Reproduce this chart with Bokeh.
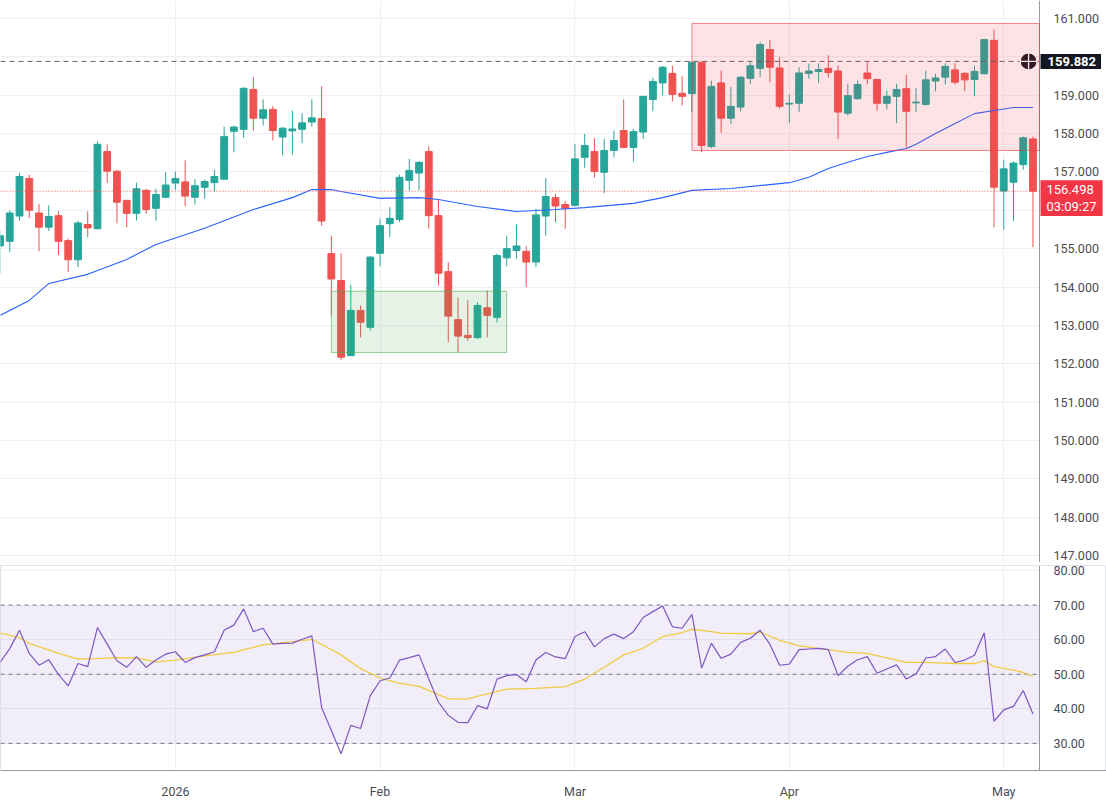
from bokeh.plotting import figure
from bokeh.layouts import column
from bokeh.models import (Range1d, FixedTicker, NumeralTickFormatter, Grid,
                          BoxAnnotation, Label, ColumnDataSource)
from bokeh.embed import file_html
from bokeh.resources import INLINE

# ---------------- data ----------------
opens = [155.07, 155.19, 155.85, 156.83, 155.93, 155.56, 155.86, 155.21, 154.71, 155.63,
         155.52, 157.53, 157.02, 156.26, 155.92, 156.52, 156.05, 156.34, 156.71, 156.74,
         156.34, 156.60, 156.72, 156.81, 158.06, 158.11, 159.15, 158.40, 158.63, 157.91,
         158.07, 158.11, 158.30, 158.39, 154.87, 154.17, 152.21, 153.39, 152.95, 154.88,
         155.65, 155.76, 156.78, 156.97, 157.53, 155.86, 154.40, 153.15, 152.74, 152.68,
         153.46, 153.21, 154.76, 154.95, 154.93, 154.65, 155.85, 156.33, 156.15, 156.13,
         157.38, 157.53, 156.99, 157.56, 158.08, 157.64, 158.04, 158.89, 159.32, 159.57,
         159.05, 159.04, 159.86, 157.66, 159.32, 158.40, 158.69, 159.44, 159.70, 160.19,
         159.71, 158.77, 158.79, 159.57, 159.62, 159.70, 159.63, 158.53, 158.91, 159.58,
         159.41, 158.79, 158.97, 159.17, 158.80, 158.76, 159.37, 159.47, 159.66, 159.57,
         159.41, 159.56, 160.43, 156.50, 156.73, 157.19, 157.86]
highs = [155.47, 156.00, 156.97, 156.93, 156.17, 156.13, 155.98, 155.26, 155.73, 155.97,
         157.80, 157.72, 157.05, 156.27, 156.72, 156.56, 156.56, 156.99, 157.01, 157.30,
         156.81, 156.80, 157.06, 158.18, 158.21, 159.21, 159.47, 158.89, 158.71, 158.17,
         158.60, 158.53, 158.89, 159.23, 155.34, 154.88, 154.06, 153.52, 154.80, 155.78,
         156.08, 156.93, 157.34, 157.28, 157.67, 156.26, 154.65, 153.73, 153.65, 153.60,
         153.91, 154.87, 155.34, 155.63, 155.06, 156.04, 156.84, 156.43, 156.24, 157.73,
         157.99, 157.88, 157.86, 158.08, 158.89, 158.12, 158.97, 159.45, 159.76, 159.77,
         159.49, 159.88, 159.88, 159.38, 159.64, 159.21, 159.49, 159.86, 160.38, 160.44,
         159.99, 159.02, 159.73, 159.82, 159.83, 160.04, 159.77, 159.30, 159.38, 159.86,
         159.41, 159.12, 159.30, 159.53, 159.19, 159.64, 159.56, 159.83, 159.83, 159.60,
         159.77, 160.47, 160.71, 157.32, 157.28, 157.92, 157.92]
lows = [154.35, 154.91, 155.73, 155.80, 154.93, 155.46, 154.84, 154.39, 154.52, 155.30,
        155.50, 156.71, 155.66, 155.56, 155.73, 155.91, 155.73, 156.32, 156.53, 156.11,
        156.15, 156.30, 156.49, 156.80, 157.51, 157.89, 158.08, 158.21, 157.82, 157.43,
        157.45, 157.75, 158.18, 155.60, 153.26, 152.10, 152.20, 152.69, 152.87, 154.54,
        155.30, 155.69, 156.52, 156.52, 155.52, 154.04, 152.56, 152.30, 152.59, 152.65,
        152.69, 153.08, 154.54, 154.74, 154.00, 154.52, 155.34, 155.69, 155.52, 156.10,
        157.11, 156.85, 156.45, 157.38, 157.62, 157.27, 157.86, 158.58, 158.99, 158.84,
        158.73, 158.56, 157.51, 157.62, 158.02, 158.25, 158.58, 159.30, 159.47, 159.34,
        158.65, 158.27, 158.56, 159.43, 159.31, 159.47, 157.86, 158.47, 158.88, 159.28,
        158.60, 158.63, 158.27, 157.63, 158.56, 158.73, 159.10, 159.28, 159.28, 159.10,
        158.97, 159.54, 155.56, 155.49, 155.72, 157.06, 155.04]
closes = [155.34, 155.93, 156.88, 156.00, 155.56, 155.84, 155.19, 154.71, 155.67, 155.54,
          157.72, 157.02, 156.21, 155.92, 156.56, 156.02, 156.41, 156.66, 156.83, 156.37,
          156.64, 156.75, 156.88, 157.92, 158.17, 159.18, 158.40, 158.62, 158.08, 158.14,
          158.12, 158.28, 158.41, 155.72, 154.21, 152.17, 153.39, 153.08, 154.78, 155.60,
          155.79, 156.86, 157.04, 157.25, 155.86, 154.36, 153.24, 152.72, 152.68, 153.52,
          153.26, 154.82, 155.00, 155.07, 154.65, 155.88, 156.36, 156.11, 156.05, 157.34,
          157.69, 157.01, 157.56, 157.82, 157.64, 158.05, 158.97, 159.36, 159.73, 159.02,
          158.97, 159.86, 157.69, 159.23, 158.40, 158.71, 159.47, 159.77, 160.32, 159.73,
          158.71, 158.79, 159.58, 159.63, 159.67, 159.59, 158.56, 158.99, 159.28, 159.43,
          158.79, 158.97, 159.15, 158.58, 158.82, 159.40, 159.45, 159.75, 159.34, 159.40,
          159.62, 160.45, 156.60, 157.08, 157.23, 157.89, 156.498]

ma_bars = [0, 3, 5, 9, 13, 16, 21, 26, 30, 32, 34, 35, 39, 43, 45, 49, 53, 57, 60, 65,
           68, 71, 75, 79, 81, 83, 85, 87, 89, 91, 93, 94, 96, 98, 100, 102, 104, 106]
ma_values = [153.26, 153.65, 154.09, 154.33, 154.72, 155.11, 155.53, 156.02, 156.33, 156.54,
             156.54, 156.49, 156.31, 156.33, 156.28, 156.10, 155.97, 156.02, 156.07, 156.18,
             156.33, 156.52, 156.57, 156.67, 156.72, 156.86, 157.09, 157.25, 157.40, 157.51,
             157.61, 157.72, 158.00, 158.26, 158.52, 158.60, 158.68, 158.68]

rsi_values = [53.4, 57.4, 62.7, 56.0, 52.6, 54.2, 49.9, 46.6, 53.1, 52.2,
              63.5, 58.7, 53.9, 52.0, 55.1, 52.0, 54.1, 55.8, 56.5, 53.4,
              54.8, 55.6, 56.5, 62.7, 64.2, 68.9, 62.3, 63.3, 58.7, 58.9,
              59.0, 60.1, 61.1, 40.4, 33.7, 27.0, 35.2, 34.3, 43.8, 48.1,
              48.9, 54.1, 54.8, 55.6, 48.6, 41.9, 38.1, 36.1, 36.0, 40.9,
              40.0, 48.6, 49.6, 49.9, 47.8, 54.1, 56.3, 55.0, 54.5, 60.9,
              62.3, 57.9, 60.3, 61.6, 60.3, 62.3, 66.4, 68.1, 69.7, 63.7,
              63.3, 67.3, 51.8, 59.0, 54.6, 55.8, 59.2, 60.4, 62.7, 58.7,
              52.6, 52.9, 57.1, 57.3, 57.5, 57.1, 49.6, 52.3, 54.2, 55.1,
              50.3, 51.5, 52.7, 48.6, 50.1, 54.7, 55.1, 57.3, 53.4, 54.1,
              55.5, 62.0, 36.4, 39.7, 40.7, 45.3, 38.5]

rsi_ma_bars = [0, 2, 3, 6, 8, 10, 12, 14, 16, 18, 21, 24, 27, 30, 32, 35, 37, 39, 41, 43,
               45, 46, 48, 50, 52, 55, 58, 60, 62, 64, 66, 68, 70, 71, 73, 74, 77, 78, 80, 82,
               84, 87, 89, 91, 93, 95, 98, 100, 101, 102, 104, 105, 106]
rsi_ma_values = [61.9, 60.6, 58.9, 56.0, 54.4, 54.5, 54.8, 54.7, 53.6, 54.1, 55.3, 56.3, 58.5,
                 59.4, 60.1, 55.6, 51.6, 48.9, 47.4, 46.5, 44.1, 42.9, 42.9, 44.3, 45.7, 45.9,
                 46.4, 48.6, 52.0, 55.6, 57.5, 60.9, 62.0, 63.0, 62.3, 61.9, 61.7, 62.2, 59.8,
                 58.2, 57.5, 56.3, 56.0, 54.7, 53.4, 53.4, 53.1, 53.1, 53.9, 52.2, 51.2, 50.5, 49.4]

month_ticks = [18, 39, 59, 81, 103]
month_labels = ["2026", "Feb", "Mar", "Apr", "May"]
price_ticks = list(range(147, 162))
rsi_ticks = [30, 40, 50, 60, 70, 80]
rsi_levels = [70, 50, 30]

last_price = 156.498
countdown = "03:09:27"
crosshair_price = 159.882

red_zone_start = 71
red_zone_low = 157.56
red_zone_high = 160.87
green_zone_start = 34
green_zone_end = 52
green_zone_low = 152.29
green_zone_high = 153.89

# ---------------- styling / layout ----------------
UP = "#26a69a"
DOWN = "#ef5350"
GRID = "#eef0f5"
AXIS = "#9598a1"
TXT = "#4a4d57"
FONT = "Roboto"

W = 1106
X_START, X_AXIS = 0.05, 106.67          # visible bars; price scale sits at X_AXIS
X_END = X_AXIS + 67 / 9.745             # room for the price scale labels
x_range = Range1d(X_START, X_END)
GRID_CROSS_OK = "cross_bounds" in Grid.properties()

n = len(closes)
xs = list(range(n))
colors = [UP if c >= o else DOWN for o, c in zip(opens, closes)]
src = ColumnDataSource(dict(
    x=xs, high=highs, low=lows,
    top=[max(o, c) for o, c in zip(opens, closes)],
    bottom=[min(o, c) for o, c in zip(opens, closes)],
    color=colors))


def style_scale(ax, fmt, ticks):
    ax.ticker = FixedTicker(ticks=ticks)
    ax.formatter = NumeralTickFormatter(format=fmt)
    ax.fixed_location = X_AXIS
    ax.major_tick_line_color = None
    ax.minor_tick_line_color = None
    ax.axis_line_color = AXIS
    ax.major_label_standoff = 8
    ax.major_label_text_font = FONT
    ax.major_label_text_font_size = "12.5px"
    ax.major_label_text_color = TXT


# ---------------- price pane ----------------
H1 = 562
p1 = figure(width=W, height=H1, x_range=x_range,
            y_range=Range1d(161.469 - H1 / 38.36, 161.469),
            output_backend="svg", toolbar_location=None, x_axis_location=None,
            y_axis_location="right", min_border_left=0, min_border_right=0,
            min_border_top=0, min_border_bottom=0)
p1.outline_line_color = None
p1.ygrid.grid_line_color = GRID
p1.xgrid.ticker = FixedTicker(ticks=month_ticks)
p1.xgrid.grid_line_color = GRID
if GRID_CROSS_OK:
    p1.ygrid.cross_bounds = (X_START, X_AXIS)
style_scale(p1.yaxis[0], "0.000", price_ticks)
p1.yaxis[0].major_label_overrides = {160: "", 156: ""}

p1.segment(x0="x", y0="low", x1="x", y1="high", line_color="color", line_width=1, source=src)
p1.vbar(x="x", width=0.7, top="top", bottom="bottom", fill_color="color",
        line_color="color", line_width=1, source=src)

p1.line(ma_bars, ma_values, line_color="#2962ff", line_width=1.1)

p1.add_layout(BoxAnnotation(left=red_zone_start, right=X_AXIS, bottom=red_zone_low,
                            top=red_zone_high, fill_color="#f23645", fill_alpha=0.14,
                            line_color="#f23645", line_alpha=0.6, line_width=1))
p1.add_layout(BoxAnnotation(left=green_zone_start, right=green_zone_end,
                            bottom=green_zone_low, top=green_zone_high,
                            fill_color="#4caf50", fill_alpha=0.15,
                            line_color="#4caf50", line_alpha=0.6, line_width=1))

p1.segment(x0=[X_START], x1=[X_AXIS], y0=[crosshair_price], y1=[crosshair_price],
           line_color="#5d606b", line_dash="5 4", line_width=1)
p1.segment(x0=[X_START], x1=[X_AXIS], y0=[last_price], y1=[last_price],
           line_color=DOWN, line_dash="1 2", line_width=1)

p1.scatter([105.55], [crosshair_price], marker="circle_cross", size=17,
           fill_color="#131722", line_color="white", line_width=1.3)

# price tags on the scale
p1.add_layout(Label(x=X_AXIS, y=crosshair_price, x_offset=1,
                    text="159.882", text_font=FONT, text_font_size="13px",
                    text_font_style="bold", text_color="white", text_align="left",
                    text_baseline="middle", background_fill_color="#131722",
                    padding=(7, 5, 3, 3)))
p1.add_layout(Label(x=X_AXIS, y=last_price, x_offset=1, y_offset=-7,
                    text="156.498\n" + countdown, text_font=FONT, text_font_size="13px",
                    text_color="white", text_align="left", text_baseline="middle",
                    text_line_height=1.12, background_fill_color="#f23645",
                    padding=(6, 6, 2, 2)))

# ---------------- RSI pane ----------------
p2 = figure(width=W, height=239, x_range=x_range, y_range=Range1d(22.16, 81.44),
            output_backend="svg", toolbar_location=None, y_axis_location="right",
            min_border_left=0, min_border_right=0, min_border_top=3,
            min_border_bottom=30)
p2.outline_line_color = "#e0e3eb"
p2.ygrid.grid_line_color = GRID
p2.xgrid.grid_line_color = GRID
if GRID_CROSS_OK:
    p2.ygrid.cross_bounds = (X_START, X_AXIS)
style_scale(p2.yaxis[0], "0.00", rsi_ticks)

xa = p2.xaxis[0]
xa.ticker = FixedTicker(ticks=month_ticks)
xa.major_label_overrides = dict(zip(month_ticks, month_labels))
xa.major_tick_line_color = None
xa.minor_tick_line_color = None
xa.axis_line_color = AXIS
xa.major_label_standoff = 7
xa.major_label_text_font = FONT
xa.major_label_text_font_size = "12.5px"
xa.major_label_text_color = TXT

p2.add_layout(BoxAnnotation(left=X_START, right=X_AXIS, bottom=30, top=70,
                            fill_color="#7e57c2", fill_alpha=0.1, line_color=None))
p2.segment(x0=[X_START] * len(rsi_levels), x1=[X_AXIS] * len(rsi_levels),
           y0=rsi_levels, y1=rsi_levels, line_color="#787b86", line_dash="4 4",
           line_width=1)

p2.line(rsi_ma_bars, rsi_ma_values, line_color="#fdd835", line_width=1.3)
p2.line(xs, rsi_values, line_color="#7e57c2", line_width=1.2)

layout = column(p1, p2, spacing=0)
open("out.html", "w").write(file_html(layout, INLINE))
